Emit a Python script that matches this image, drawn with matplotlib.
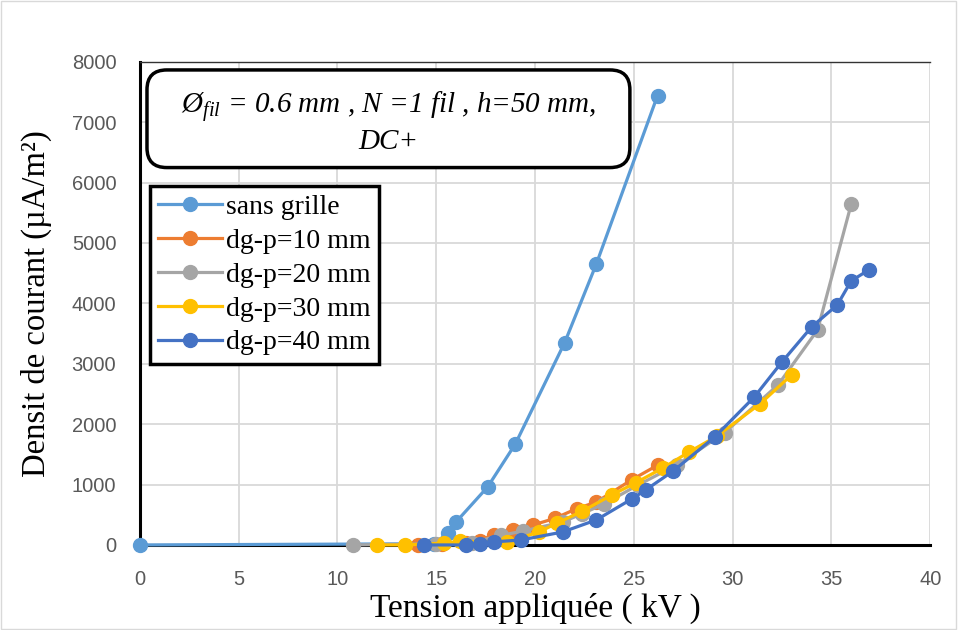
import matplotlib.pyplot as plt
from matplotlib.patches import FancyBboxPatch, Rectangle

# data
sans_x = [0, 14.9, 15.6, 16.0, 17.6, 19.0, 21.5, 23.1, 26.2]
sans_y = [0, 20, 200, 380, 960, 1670, 3350, 4650, 7440]

dg10_x = [14.1, 15.3, 16.5, 17.2, 17.9, 18.9, 19.9, 21.0, 22.1, 23.1, 24.9, 26.2]
dg10_y = [0, 10, 30, 70, 170, 250, 330, 440, 600, 710, 1080, 1320]

dg20_x = [10.8, 15.0, 16.8, 18.3, 19.4, 21.4, 22.4, 23.5, 25.2, 27.2, 29.6, 32.3, 34.3, 36.0]
dg20_y = [0, 20, 40, 160, 230, 380, 520, 680, 990, 1330, 1860, 2650, 3560, 5640]

dg30_x = [12.0, 13.4, 15.4, 16.2, 18.6, 20.2, 21.1, 22.4, 23.9, 25.1, 26.5, 27.8, 29.2, 31.4, 33.0]
dg30_y = [0, 0, 30, 60, 50, 215, 360, 560, 830, 1030, 1280, 1540, 1800, 2340, 2820]

dg40_x = [14.4, 16.5, 17.2, 17.9, 19.3, 21.4, 23.1, 24.9, 25.6, 27.0, 29.1, 31.1, 32.5, 34.0, 35.3, 36.0, 36.9]
dg40_y = [0, 0, 17, 50, 83, 215, 414, 762, 911, 1226, 1789, 2451, 3031, 3610, 3975, 4372, 4555]

series = [
    (sans_x, sans_y, 'sans grille', '#5B9BD5'),
    (dg10_x, dg10_y, 'dg-p=10 mm', '#ED7D31'),
    (dg20_x, dg20_y, 'dg-p=20 mm', '#A5A5A5'),
    (dg30_x, dg30_y, 'dg-p=30 mm', '#FFC000'),
    (dg40_x, dg40_y, 'dg-p=40 mm', '#4472C4'),
]

x_ticks = [0, 5, 10, 15, 20, 25, 30, 35, 40]
y_ticks = [0, 1000, 2000, 3000, 4000, 5000, 6000, 7000, 8000]

plt.rcParams['mathtext.fontset'] = 'custom'
plt.rcParams['mathtext.rm'] = 'Liberation Serif'
plt.rcParams['mathtext.it'] = 'Liberation Serif:italic'

fig = plt.figure(figsize=(9.58, 6.3), dpi=100)
ax = fig.add_axes([0.146, 0.135, 0.825, 0.767])

for x, y, name, col in series:
    ax.plot(x, y, color=col, lw=2.3, marker='o', ms=10, label=name, zorder=3, clip_on=False)

ax.set_xlim(0, 40)
ax.set_ylim(0, 8000)
ax.set_xticks(x_ticks)
ax.set_yticks(y_ticks)
ax.grid(True, color='#D9D9D9', lw=1.3, zorder=0)
ax.set_axisbelow(True)
ax.tick_params(length=0, labelsize=14.5, colors='#595959')
ax.tick_params(axis='x', pad=18)
ax.tick_params(axis='y', pad=17)
for lab in ax.get_xticklabels() + ax.get_yticklabels():
    lab.set_family('Liberation Sans')

ax.spines['left'].set_linewidth(2.2)
ax.spines['bottom'].set_linewidth(2.2)
ax.spines['left'].set_color('black')
ax.spines['bottom'].set_color('black')
ax.spines['top'].set_linewidth(1.0)
ax.spines['top'].set_color('#333333')
ax.spines['right'].set_visible(False)
for sp in ax.spines.values():
    sp.set_zorder(2.5)

ax.set_xlabel('Tension appliquée ( kV )', family='Liberation Serif', fontsize=24, labelpad=3)
ax.set_ylabel('Densit de courant (µA/m²)', family='Liberation Serif', fontsize=23.5, labelpad=14)

# annotation box with the test conditions
box = FancyBboxPatch((0.009, 0.781), 0.611, 0.202, transform=ax.transAxes,
                     boxstyle='round,pad=0,rounding_size=0.025', mutation_aspect=790 / 483,
                     fc='white', ec='black', lw=2.5, zorder=5)
ax.add_patch(box)
ax.text(0.3145, 0.874, r'$Ø_{fil}$ = 0.6 mm , N =1 fil , h=50 mm,' + '\nDC+',
        transform=ax.transAxes, ha='center', va='center', fontsize=21,
        family='Liberation Serif', style='italic', linespacing=1.2, zorder=6)

leg = ax.legend(loc='upper left', bbox_to_anchor=(0.0127, 0.742), fancybox=False,
                framealpha=1, edgecolor='black', borderaxespad=0, handlelength=2.3,
                handletextpad=0.15, labelspacing=0.3, borderpad=0.3,
                prop={'family': 'Liberation Serif', 'size': 20})
leg.get_frame().set_linewidth(2.5)
leg.set_zorder(6)

fig.patches.append(Rectangle((0.001, 0.001), 0.997, 0.997, transform=fig.transFigure,
                             fill=False, ec='#D9D9D9', lw=1))

fig.savefig('out.png', dpi=100)
plt.close(fig)
